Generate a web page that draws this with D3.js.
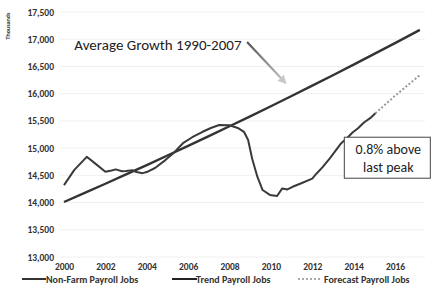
<!DOCTYPE html>
<html><head><meta charset="utf-8">
<script src="https://cdn.jsdelivr.net/npm/d3@7"></script>
<style>body{margin:0;background:#fff}svg{display:block}</style>
</head><body>
<script>
// ---- data ----
const yTicks = [13000,13500,14000,14500,15000,15500,16000,16500,17000,17500];
const xTicks = [2000,2002,2004,2006,2008,2010,2012,2014,2016];
const nfpYears = [2000.0,2000.5,2001.1,2001.5,2002.0,2002.3,2002.5,2002.8,2003.0,2003.3,2003.5,2003.8,2004.0,2004.4,2004.9,2005.3,2005.75,2006.2,2006.7,2007.1,2007.5,2008.0,2008.4,2008.7,2008.9,2009.1,2009.35,2009.6,2009.95,2010.3,2010.55,2010.8,2011.05,2011.5,2012.0,2012.2,2012.5,2012.85,2013.4,2013.7,2013.96,2014.2,2014.5,2014.8,2015.05];
const nfpValues = [14320,14600,14840,14720,14565,14590,14610,14575,14580,14595,14560,14540,14560,14635,14780,14910,15090,15200,15300,15370,15425,15420,15370,15300,15150,14800,14470,14230,14140,14120,14260,14240,14290,14360,14440,14530,14650,14810,15090,15190,15290,15360,15470,15550,15640];
const trendYears = [2000,2001,2002,2003,2004,2005,2006,2007,2008,2009,2010,2011,2012,2013,2014,2015,2016,2017,2017.2];
const trendValues = [14010,14177,14345,14516,14689,14864,15041,15220,15401,15584,15769,15957,16147,16339,16533,16730,16929,17131,17171];
const fcYears = [2015.05,2016.0,2017.2];
const fcValues = [15640,15960,16340];
const legendLabels = ["Non-Farm Payroll Jobs","Trend Payroll Jobs","Forecast Payroll Jobs"];

const W=431,H=286;
const svg=d3.select("body").append("svg").attr("width",W).attr("height",H);
const x=d3.scaleLinear().domain([2000,2016]).range([64,395]);
const y=d3.scaleLinear().domain([13000,17500]).range([257,12]);
const font="Calibri, Carlito, 'Open Sans', 'Noto Sans', sans-serif";

// grid
svg.append("g").selectAll("line").data(yTicks).join("line")
  .attr("x1",60).attr("x2",425).attr("y1",d=>y(d)).attr("y2",d=>y(d))
  .attr("stroke","#f0f0f0").attr("stroke-width",1);

// y axis labels
const yAxis=d3.axisLeft(y).tickValues(yTicks).tickFormat(d3.format(",")).tickSize(0).tickPadding(0);
const gy=svg.append("g").attr("transform","translate(54,0)").call(yAxis);
gy.select(".domain").remove();
gy.selectAll("text").attr("font-family",font).attr("font-size",9.5).attr("font-weight","bold").attr("fill","#333");

// x axis labels
const xAxis=d3.axisBottom(x).tickValues(xTicks).tickFormat(d3.format("d")).tickSize(0).tickPadding(0);
const gx=svg.append("g").attr("transform","translate(0,263)").call(xAxis);
gx.select(".domain").remove();
gx.selectAll("text").attr("font-family",font).attr("font-size",9.5).attr("font-weight","bold").attr("fill","#333");

// Thousands label
svg.append("text").attr("transform","translate(10,26) rotate(-90)").attr("text-anchor","middle")
  .attr("font-family",font).attr("font-size",6).attr("font-weight","bold").attr("fill","#333").text("Thousands");

const line=d3.line().x(d=>x(d[0])).y(d=>y(d[1]));

// trend
svg.append("path").datum(d3.zip(trendYears,trendValues)).attr("d",line)
  .attr("fill","none").attr("stroke","#333").attr("stroke-width",2.4);
// forecast
svg.append("path").datum(d3.zip(fcYears,fcValues)).attr("d",line)
  .attr("fill","none").attr("stroke","#999").attr("stroke-width",2).attr("stroke-dasharray","2,2");
// nfp
svg.append("path").datum(d3.zip(nfpYears,nfpValues)).attr("d",line)
  .attr("fill","none").attr("stroke","#3a3a3a").attr("stroke-width",2).attr("stroke-linejoin","round");

// annotation text
svg.append("text").attr("x",x(2000.5)).attr("y",y(16800)).attr("font-family",font).attr("font-size",15)
  .attr("fill","#222").text("Average Growth 1990-2007");

// arrow
const defs=svg.append("defs");
const grad=defs.append("linearGradient").attr("id","ag").attr("gradientUnits","userSpaceOnUse")
  .attr("x1",x(2008.85)).attr("y1",y(16950)).attr("x2",x(2010.7)).attr("y2",y(16200));
grad.append("stop").attr("offset","0").attr("stop-color","#555");
grad.append("stop").attr("offset","1").attr("stop-color","#c8c8c8");
defs.append("marker").attr("id","ah").attr("viewBox","0 0 10 10").attr("refX",8).attr("refY",5)
  .attr("markerWidth",4).attr("markerHeight",4).attr("orient","auto")
  .append("path").attr("d","M0,0L10,5L0,10z").attr("fill","#c8c8c8");
svg.append("line").attr("x1",x(2008.85)).attr("y1",y(16950)).attr("x2",x(2010.7)).attr("y2",y(16200))
  .attr("stroke","url(#ag)").attr("stroke-width",2.2).attr("marker-end","url(#ah)");

// box
const bx=x(2013.55), by=y(15200);
svg.append("rect").attr("x",bx).attr("y",by).attr("width",86).attr("height",41)
  .attr("fill","#fff").attr("stroke","#444").attr("stroke-width",1);
svg.append("text").attr("x",bx+44).attr("y",by+17).attr("text-anchor","middle").attr("font-family",font)
  .attr("font-size",14).attr("fill","#222").text("0.8% above");
svg.append("text").attr("x",bx+44).attr("y",by+35).attr("text-anchor","middle").attr("font-family",font)
  .attr("font-size",14).attr("fill","#222").text("last peak");

// legend
const leg=[{x1:22,x2:46,tx:46,s:"#333",dash:null},{x1:172,x2:197,tx:196,s:"#222",dash:null},{x1:298,x2:322,tx:324,s:"#aaa",dash:"2,2"}];
leg.forEach((l,i)=>{
  svg.append("line").attr("x1",l.x1).attr("x2",l.x2).attr("y1",279).attr("y2",279)
    .attr("stroke",l.s).attr("stroke-width",2).attr("stroke-dasharray",l.dash);
  svg.append("text").attr("x",l.tx).attr("y",283).attr("font-family",font).attr("font-size",10)
    .attr("font-weight","bold").attr("fill","#333").text(legendLabels[i]);
});
</script>
</body></html>
